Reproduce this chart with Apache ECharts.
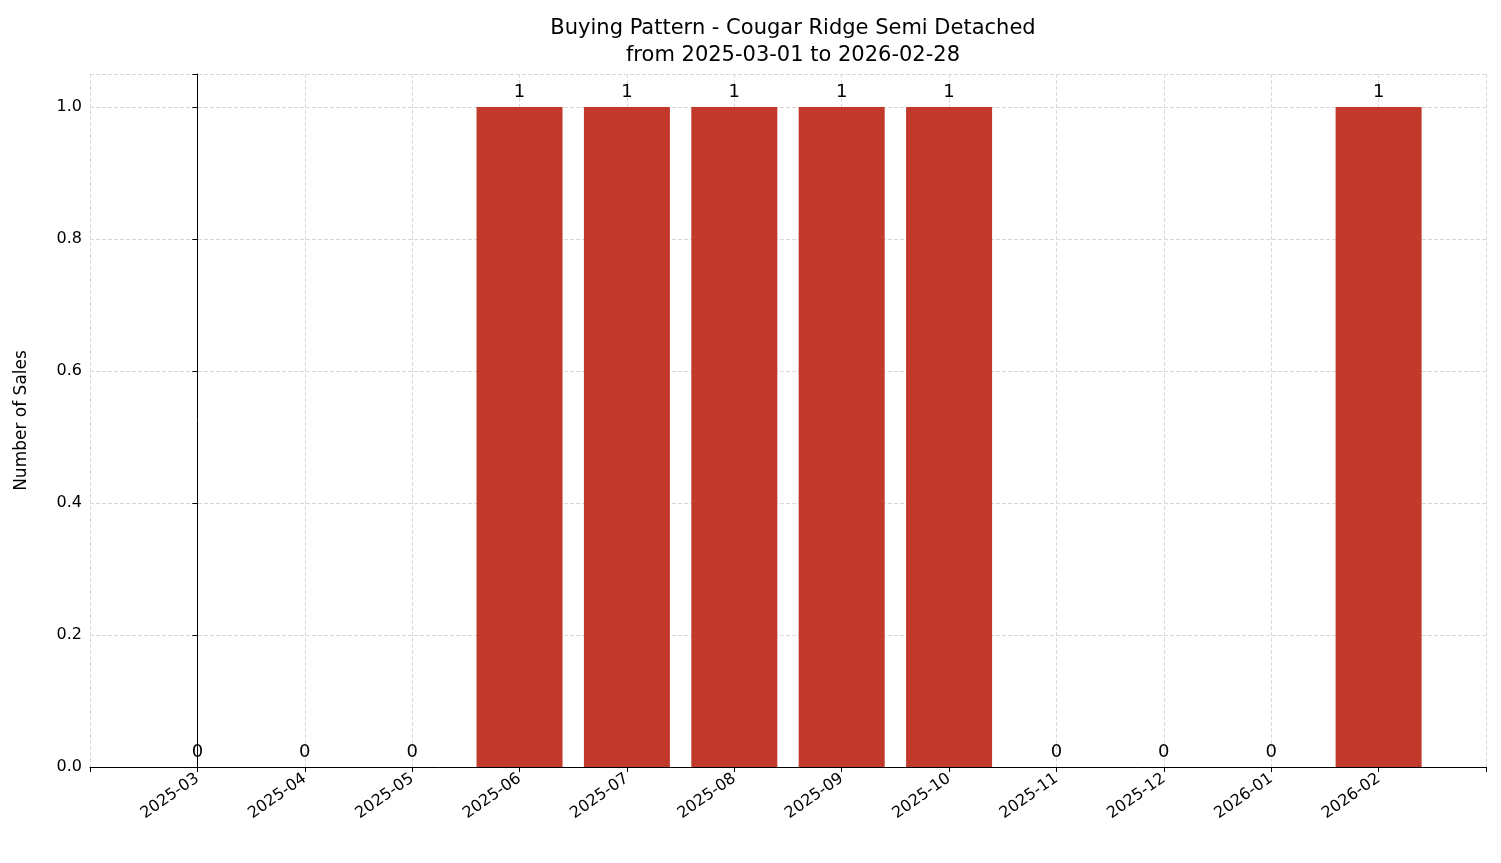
<!DOCTYPE html>
<html><head><meta charset="utf-8">
<script src="https://cdn.jsdelivr.net/npm/echarts@6/dist/echarts.min.js"></script>
<style>html,body{margin:0;padding:0;background:#fff}#c{width:1501px;height:863px}</style>
</head><body><div id="c"></div>
<script>
const categories = ['2025-03','2025-04','2025-05','2025-06','2025-07','2025-08','2025-09','2025-10','2025-11','2025-12','2026-01','2026-02'];
const sales = [0,0,0,1,1,1,1,1,0,0,0,1];
const yTicks = [0,0.2,0.4,0.6,0.8,1.0];
const font = 'DejaVu Sans';
const chart = echarts.init(document.getElementById('c'));
chart.setOption({
  animation:false,
  title:{text:'Buying Pattern - Cougar Ridge Semi Detached\nfrom 2025-03-01 to 2026-02-28',left:788,textAlign:'center',top:10,
    textStyle:{fontFamily:font,fontSize:21,fontWeight:'normal',color:'#000',lineHeight:27}},
  grid:{left:90,right:15,top:74,bottom:96},
  xAxis:{type:'value',min:-1,max:12,interval:1,
    axisLine:{lineStyle:{color:'#000'}},axisTick:{show:true,length:5,lineStyle:{color:'#000'}},
    axisLabel:{rotate:35,fontFamily:font,fontSize:16,color:'#000',margin:10,
      formatter:v=>(v>=0&&v<categories.length)?categories[v]:''},
    splitLine:{show:true,lineStyle:{type:'dashed',color:'#d9d9d9'}}},
  yAxis:{type:'value',min:0,max:1.05,interval:0.2,
    name:'Number of Sales',nameLocation:'middle',nameGap:60,nameTextStyle:{fontFamily:font,fontSize:17,color:'#000'},
    axisLine:{show:true,lineStyle:{color:'#000'}},axisTick:{show:true,length:5,lineStyle:{color:'#000'}},
    axisLabel:{fontFamily:font,fontSize:16,color:'#000',formatter:v=>yTicks.some(t=>Math.abs(t-v)<1e-9)?v.toFixed(1):''},
    splitLine:{show:true,lineStyle:{type:'dashed',color:'#d9d9d9'}}},
  series:[{type:'bar',barWidth:86,data:sales.map((v,i)=>[i,v]),
    itemStyle:{color:'#c0392b'},
    label:{show:true,position:'top',distance:6,fontFamily:font,fontSize:18,color:'#000',formatter:p=>String(p.value[1])}}]
});
</script></body></html>
